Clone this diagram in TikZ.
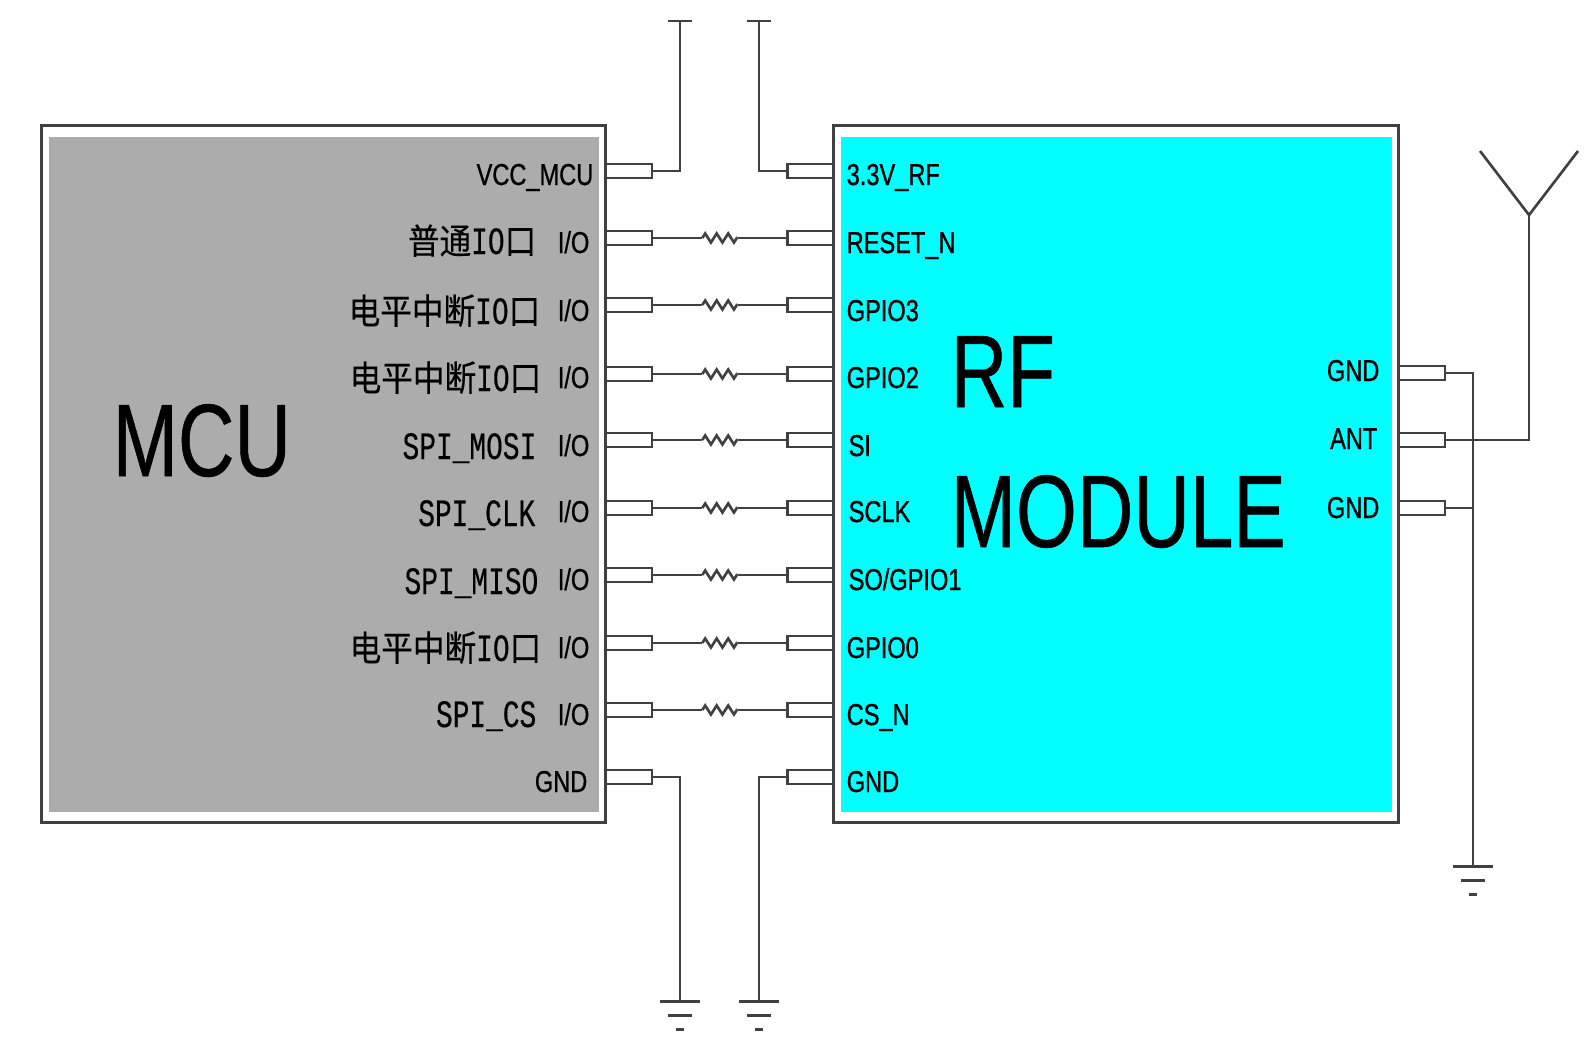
\documentclass[tikz,border=0pt]{standalone}
\usepackage{fontspec}
\setmainfont{Liberation Sans}
\newfontfamily\narrowsans[FakeStretch=0.78,FakeBold=0.9]{Liberation Sans}
\newfontfamily\titlesans[FakeStretch=0.76,FakeBold=0.5]{Liberation Sans}
\newfontfamily\narrowmono[FakeStretch=0.72,FakeBold=0.3]{Liberation Mono}
\newfontfamily\cjkserif[FakeStretch=0.9,FakeBold=0.3]{Noto Sans CJK SC}
\definecolor{wiregray}{RGB}{64,64,64}
\definecolor{mcugray}{RGB}{172,172,172}
\definecolor{rfcyan}{RGB}{0,255,255}
\usetikzlibrary{decorations.pathmorphing}
\tikzset{
  wire/.style={draw=wiregray, line width=0.75pt},
  chipbox/.style={draw=wiregray, line width=0.8pt, fill=white, inner sep=0pt, minimum width=5.64cm, minimum height=6.97cm},
  chipfill/.style={inner sep=0pt, minimum width=5.5cm, minimum height=6.75cm},
  pinbox/.style={draw=wiregray, line width=0.75pt, fill=white, inner sep=0pt, minimum width=0.46cm, minimum height=0.14cm},
  resbox/.style={inner sep=0pt, minimum width=0.34cm, minimum height=0.1cm},
  reszig/.style={wire, decorate, decoration={zigzag, segment length=1.15mm, amplitude=0.45mm}},
  biglabel/.style={font=\titlesans\fontsize{29.3}{32}\selectfont, anchor=base west, inner sep=0pt},
  pinleft/.style={font=\narrowsans\fontsize{8.6}{10}\selectfont, anchor=base east, inner sep=0pt},
  pinright/.style={font=\narrowsans\fontsize{8.6}{10}\selectfont, anchor=base west, inner sep=0pt},
  funclabel/.style={font=\narrowmono\fontsize{11}{12}\selectfont, anchor=base east, inner sep=0pt},
  gndsym/.pic={
    \draw[wire, line width=0.85pt] (-20,0) -- (20,0);
    \draw[wire, line width=0.85pt] (-12,14) -- (12,14);
    \draw[wire, line width=0.85pt] (-4,28) -- (4,28);
  }
}
\begin{document}
\begin{tikzpicture}[x=0.01cm, y=-0.01cm]
  \useasboundingbox (0,0) rectangle (1595,1054);

  %--- Chips ---
  \node[chipbox] (mcu) at (323.5,474) {};
  \node[chipfill, fill=mcugray] (mcufill) at (324,474.5) {};
  \node[chipbox] (rf) at (1116,474) {};
  \node[chipfill, fill=rfcyan] (rffill) at (1116.5,474.5) {};

  \node[biglabel] (mcuname) at (112,476) {MCU};
  \node[biglabel] (rfname) at (950,407) {RF};
  \node[biglabel] (rfname2) at (950,547) {MODULE};

  %--- MCU pins ---
  \node[pinbox] (mvcc) at (629,171) {};
  \node[pinbox] (mio) at (629,238) {};
  \node[pinbox] (mint) at (629,305) {};
  \node[pinbox] (mintb) at (629,374) {};
  \node[pinbox] (mmosi) at (629,440) {};
  \node[pinbox] (mclk) at (629,508) {};
  \node[pinbox] (mmiso) at (629,575) {};
  \node[pinbox] (mintc) at (629,643) {};
  \node[pinbox] (mcs) at (629,710) {};
  \node[pinbox] (mgnd) at (629,777) {};

  %--- RF pins ---
  \node[pinbox] (rvcc) at (810.5,171) {};
  \node[pinbox] (rreset) at (810.5,238) {};
  \node[pinbox] (rgpiot) at (810.5,305) {};
  \node[pinbox] (rgpiob) at (810.5,374) {};
  \node[pinbox] (rsi) at (810.5,440) {};
  \node[pinbox] (rclk) at (810.5,508) {};
  \node[pinbox] (rso) at (810.5,575) {};
  \node[pinbox] (rgpioa) at (810.5,643) {};
  \node[pinbox] (rcs) at (810.5,710) {};
  \node[pinbox] (rgnd) at (810.5,777) {};
  \node[pinbox] (rgndu) at (1422,373) {};
  \node[pinbox] (rant) at (1422,440) {};
  \node[pinbox] (rgndd) at (1422,508) {};

  %--- Series resistors ---
  \node[resbox] (ra) at (720,238) {};
  \node[resbox] (rb) at (720,305) {};
  \node[resbox] (rc) at (720,374) {};
  \node[resbox] (rd) at (720,440) {};
  \node[resbox] (re) at (720,508) {};
  \node[resbox] (rf1) at (720,575) {};
  \node[resbox] (rg) at (720,643) {};
  \node[resbox] (rh) at (720,710) {};

  \draw[wire] (mio.east) -- (ra.west) (ra.east) -- (rreset.west);
  \draw[wire] (mint.east) -- (rb.west) (rb.east) -- (rgpiot.west);
  \draw[wire] (mintb.east) -- (rc.west) (rc.east) -- (rgpiob.west);
  \draw[wire] (mmosi.east) -- (rd.west) (rd.east) -- (rsi.west);
  \draw[wire] (mclk.east) -- (re.west) (re.east) -- (rclk.west);
  \draw[wire] (mmiso.east) -- (rf1.west) (rf1.east) -- (rso.west);
  \draw[wire] (mintc.east) -- (rg.west) (rg.east) -- (rgpioa.west);
  \draw[wire] (mcs.east) -- (rh.west) (rh.east) -- (rcs.west);

  \draw[reszig] (ra.west) -- (ra.east);
  \draw[reszig] (rb.west) -- (rb.east);
  \draw[reszig] (rc.west) -- (rc.east);
  \draw[reszig] (rd.west) -- (rd.east);
  \draw[reszig] (re.west) -- (re.east);
  \draw[reszig] (rf1.west) -- (rf1.east);
  \draw[reszig] (rg.west) -- (rg.east);
  \draw[reszig] (rh.west) -- (rh.east);

  %--- Supply rails ---
  \coordinate (vccm) at (680,21);
  \coordinate (vccr) at (759,21);
  \coordinate (gndm) at (680,1001);
  \coordinate (gndr) at (759,1001);
  \coordinate (gndant) at (1473,866);

  \draw[wire] (mvcc.east) -| (vccm);
  \draw[wire] (rvcc.west) -| (vccr);
  \draw[wire] (vccm) ++(-12,0) -- ++(24,0);
  \draw[wire] (vccr) ++(-12,0) -- ++(24,0);
  \draw[wire] (mgnd.east) -| (gndm);
  \draw[wire] (rgnd.west) -| (gndr);
  \pic at (gndm) {gndsym};
  \pic at (gndr) {gndsym};

  % Antenna and ground
  \coordinate (antfork) at (1529,215);
  \coordinate (anttipa) at (1480,151);
  \coordinate (anttipb) at (1578,151);
  \draw[wire] (rgndu.east) -| (gndant);
  \draw[wire] (rgndd.east) -- (rgndd.east -| gndant);
  \draw[wire] (rant.east) -| (antfork);
  \draw[wire] (anttipa) -- (antfork) -- (anttipb);
  \pic at (gndant) {gndsym};

  %--- MCU labels ---
  \node[pinleft] (lvcc) at (594,185) {VCC\_MCU};
  \node[pinleft] (lioa) at (590,253) {I/O};
  \node[pinleft] (liob) at (590,321) {I/O};
  \node[pinleft] (lioc) at (590,388) {I/O};
  \node[pinleft] (liod) at (590,456) {I/O};
  \node[pinleft] (lioe) at (590,522) {I/O};
  \node[pinleft] (liof) at (590,590) {I/O};
  \node[pinleft] (liog) at (590,658) {I/O};
  \node[pinleft] (lioh) at (590,725) {I/O};
  \node[pinleft] (lgnd) at (588,792) {GND};

  \node[funclabel] (fio) at (537,254) {{\cjkserif\fontsize{10}{12}\selectfont 普通}IO{\cjkserif\fontsize{10}{12}\selectfont 口}};
  \node[funclabel] (finta) at (541,324) {{\cjkserif\fontsize{10}{12}\selectfont 电平中断}IO{\cjkserif\fontsize{10}{12}\selectfont 口}};
  \node[funclabel] (fintb) at (542,391) {{\cjkserif\fontsize{10}{12}\selectfont 电平中断}IO{\cjkserif\fontsize{10}{12}\selectfont 口}};
  \node[funclabel] (fmosi) at (537,459) {SPI\_MOSI};
  \node[funclabel] (fclk) at (536,526) {SPI\_CLK};
  \node[funclabel] (fmiso) at (539,594) {SPI\_MISO};
  \node[funclabel] (fintc) at (542,661) {{\cjkserif\fontsize{10}{12}\selectfont 电平中断}IO{\cjkserif\fontsize{10}{12}\selectfont 口}};
  \node[funclabel] (fcs) at (537,727) {SPI\_CS};

  %--- RF labels ---
  \node[pinright] (lrvcc) at (846,185) {3.3V\_RF};
  \node[pinright] (lrreset) at (846,253) {RESET\_N};
  \node[pinright] (lrgpiot) at (846,321) {GPIO3};
  \node[pinright] (lrgpiob) at (846,388) {GPIO2};
  \node[pinright] (lrsi) at (848,456) {SI};
  \node[pinright] (lrclk) at (848,522) {SCLK};
  \node[pinright] (lrso) at (848,590) {SO/GPIO1};
  \node[pinright] (lrgpioa) at (846,658) {GPIO0};
  \node[pinright] (lrcs) at (846,725) {CS\_N};
  \node[pinright] (lrgnd) at (846,792) {GND};
  \node[pinleft] (lrgndu) at (1380,381) {GND};
  \node[pinleft] (lrant) at (1378,449) {ANT};
  \node[pinleft] (lrgndd) at (1380,518) {GND};
\end{tikzpicture}
\end{document}
